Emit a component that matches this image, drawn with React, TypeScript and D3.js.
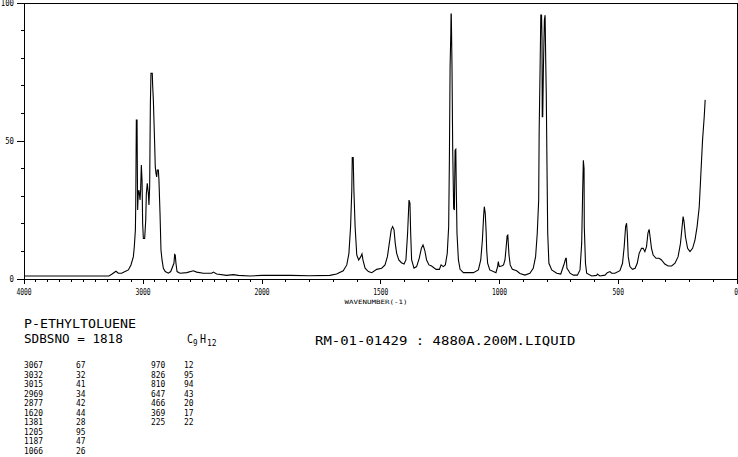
import React from "react";
import * as d3 from "d3";

// ---- spectrum data: [wavenumber (cm-1), relative intensity] ----
const regionCH: [number, number][] = [
  [4000, 1.1], [3286, 1.1], [3263, 1.7], [3227, 2.8], [3207, 2.1], [3179, 2.1], [3151, 2.7],
  [3123, 3.3], [3101, 5.1], [3081, 8.1], [3073, 11.7], [3064, 17.8], [3061, 26.8], [3056, 57.6],
  [3050, 57.6], [3048, 43], [3045, 25], [3040, 31], [3034, 32.2], [3025, 28.6], [3020, 32.2],
  [3014, 41.3], [3008, 35.9], [3003, 20.2], [2997, 14.7], [2986, 14.7], [2977, 21.4], [2972, 31],
  [2964, 34.7], [2955, 31], [2950, 26.8], [2944, 33.4], [2941, 49], [2938, 63.6], [2933, 74.5],
  [2922, 74.5], [2919, 70.3], [2913, 64.9], [2908, 57.6], [2902, 49], [2897, 40.7], [2891, 38.3],
  [2885, 37], [2880, 39.5], [2871, 39.5], [2866, 35.9], [2857, 23.8], [2849, 10.5], [2840, 6.9],
  [2829, 3.9], [2813, 2.7], [2787, 2.1], [2767, 2.7], [2740, 5.7], [2734, 8.9], [2729, 8.7],
  [2723, 5.7], [2714, 2.7], [2689, 2.1], [2633, 2.3], [2577, 3.0], [2549, 2.5], [2493, 2.1],
  [2423, 2.1], [2409, 2.5], [2381, 1.8], [2297, 1.3], [2241, 1.6], [2199, 1.3], [2101, 1.1],
];

const regionMid: [number, number][] = [
  [2000, 1.3], [1880, 1.3], [1800, 1.2], [1714, 1.3], [1686, 1.8], [1658, 3.0], [1643, 5.1],
  [1634, 9.3], [1627, 19], [1622, 32], [1620, 44], [1616, 44], [1613, 32], [1608, 19], [1601, 8.7],
  [1593, 6.9], [1584, 8.1], [1579, 9.1], [1575, 6.9], [1566, 3.9], [1552, 2.7], [1538, 2.3],
  [1517, 3.5], [1496, 3.9], [1482, 5.1], [1472, 8.1], [1464, 12.9], [1456, 17.8], [1450, 19],
  [1444, 17.8], [1439, 12.9], [1433, 9.3], [1424, 6.9], [1413, 5.9], [1402, 5.4], [1394, 6.9],
  [1387, 16.6], [1381, 28.6], [1377, 27.4], [1374, 16.6], [1370, 6.9], [1360, 3.9], [1349, 4.5],
  [1338, 7.5], [1329, 11.1], [1322, 12.3], [1315, 10.5], [1307, 6.9], [1297, 5.1], [1286, 4.7],
  [1267, 3.5], [1253, 3.5], [1246, 5.1], [1237, 4.5], [1228, 5.1], [1220, 9.3], [1214, 19],
  [1211, 43], [1208, 77], [1205, 89], [1204, 96], [1203, 96], [1200, 77], [1197, 46.7],
  [1193, 25.6], [1190, 25], [1187, 46.7], [1184, 47], [1182, 33.4], [1179, 16.6], [1173, 6.9],
  [1166, 3.5], [1152, 2.3], [1110, 2.3], [1089, 3.3], [1079, 6.9], [1072, 14.1], [1067, 22.6],
  [1064, 26.2], [1060, 23.8], [1056, 16.6], [1054, 10.5], [1050, 5.7], [1041, 3.3], [1026, 2.7],
  [1015, 2.3], [1008, 4.5], [1005, 6.3], [1001, 4.5],
];

const regionLow: [number, number][] = [
  [991, 4.7], [983, 5.1], [977, 6.9], [973, 10.5], [968, 15.6], [965, 15.9], [963, 12.9],
  [960, 8.7], [955, 5.1], [946, 3.5], [928, 3.0], [914, 2.0], [893, 1.4], [872, 2.1], [858, 3.9],
  [848, 8.1], [841, 16.6], [835, 28.6], [833, 53.4], [829, 77], [826, 95.6], [823, 95.6],
  [821, 87], [820, 58.8], [818, 58.8], [815, 77], [811, 93.8], [808, 95.6], [805, 77],
  [803, 66.7], [800, 40.7], [797, 16.6], [792, 5.7], [780, 3.3], [759, 2.1], [742, 1.8],
  [734, 3.9], [727, 5.7], [721, 7.5], [719, 7.5], [716, 3.9], [709, 3.0], [703, 2.1], [689, 1.4],
  [672, 1.4], [661, 3.3], [654, 12.9], [650, 31], [647, 43], [644, 40], [643, 19], [638, 5.7],
  [633, 2.1], [612, 1.1], [591, 1.3], [588, 1.8], [577, 1.1], [556, 1.4], [546, 2.3], [535, 2.7],
  [528, 2.1], [514, 2.1], [493, 3.0], [482, 5.7], [475, 11.7], [469, 19], [465, 20.2],
  [462, 16.6], [458, 8.1], [451, 4.5], [440, 3.5], [429, 3.9], [420, 5.7], [412, 9.3],
  [402, 11.1], [395, 11.1], [388, 9.9], [381, 11.7], [375, 16.6], [370, 18], [366, 15.3],
  [360, 11.1], [353, 8.7], [341, 7.5], [328, 7.5], [318, 6.9], [304, 5.4], [290, 4.7],
  [275, 4.7], [261, 5.7], [248, 8.1], [238, 12.9], [231, 19], [227, 22.6], [223, 20.8],
  [217, 15.3], [208, 11.1], [198, 9.9], [187, 11.1], [177, 14.1], [168, 19], [159, 26.2],
  [152, 38.3], [145, 50.4], [138, 58.8], [134, 64.9],
];

// ---- axis ticks ----
const xLabelTicks = [4000, 3000, 2000, 1500, 1000, 500, 0];
const yLabelTicks = [0, 50, 100];
const yMinorTicks = [10, 20, 30, 40, 60, 70, 80, 90];

// ---- peak table & labels ----
const compoundName = "P-ETHYLTOLUENE";
const sdbsLine = "SDBSNO = 1818";
const measurementLine = "RM-01-01429 : 4880A.200M.LIQUID";
const peakWavenumbers1 = ["3067", "3032", "3015", "2969", "2877", "1620", "1381", "1205", "1187", "1066"];
const peakIntensities1 = ["67", "32", "41", "34", "42", "44", "28", "95", "47", "26"];
const peakWavenumbers2 = ["970", "826", "810", "647", "466", "369", "225"];
const peakIntensities2 = ["12", "95", "94", "43", "20", "17", "22"];

const FONT = "'DejaVu Sans Mono', 'Liberation Mono', monospace";

export default function App() {
  const x = d3.scaleLinear().domain([4000, 2000, 0]).range([24, 262, 737]);
  const y = d3.scaleLinear().domain([0, 100]).range([279, 3]);
  const data = [...regionCH, ...regionMid, ...regionLow];
  const line = d3
    .line<[number, number]>()
    .x((d) => x(d[0]))
    .y((d) => y(d[1]));

  const minorX: number[] = [];
  for (let v = 4000; v >= 0; v -= 100) minorX.push(v);

  const x0 = x(4000);
  const x1 = x(0);
  const yBase = y(0);
  const yTop = y(100);
  const rowY = (i: number) => 368 + i * 9.55;

  const T = (
    px: number,
    py: number,
    s: string,
    size: number,
    cw: number,
    anchor: "start" | "middle" | "end" = "start"
  ) => (
    <text
      x={px}
      y={py}
      fontSize={size}
      fontFamily={FONT}
      textAnchor={anchor}
      textLength={s.length * cw}
      lengthAdjust="spacingAndGlyphs"
      fill="#000"
    >
      {s}
    </text>
  );

  return (
    <svg
      width={738}
      height={457}
      style={{ position: "fixed", left: 0, top: 0, background: "#fff" }}
    >
      <rect x={0} y={0} width={738} height={457} fill="#fff" />
      <g stroke="#000" strokeWidth={1} shapeRendering="crispEdges" fill="none">
        <line x1={x0} y1={yTop} x2={x1} y2={yTop} />
        <line x1={x1} y1={yTop} x2={x1} y2={yBase} />
        <line x1={x0} y1={yTop} x2={x0} y2={yBase} />
        <line x1={x0} y1={yBase} x2={x1} y2={yBase} />
        {minorX.map((v) => (
          <line
            key={"xt" + v}
            x1={x(v)}
            x2={x(v)}
            y1={yBase}
            y2={yBase + (xLabelTicks.includes(v) ? 5 : 3)}
          />
        ))}
        {yLabelTicks.map((v) => (
          <line key={"yt" + v} x1={x0 - 7} x2={x0} y1={y(v)} y2={y(v)} />
        ))}
        {yMinorTicks.map((v) => (
          <line key={"ym" + v} x1={x0 - 3} x2={x0} y1={y(v)} y2={y(v)} />
        ))}
      </g>
      <path d={line(data) || ""} fill="none" stroke="#000" strokeWidth={1.1} />

      {xLabelTicks.map((v) => (
        <g key={"xl" + v}>
          {v === 0
            ? T(738, 295, String(v), 8, 3.8, "end")
            : T(x(v), 295, String(v), 8, 3.8, "middle")}
        </g>
      ))}
      {yLabelTicks.map((v) => (
        <g key={"yl" + v}>{T(14, y(v) + 3, String(v), 8, 4.4, "end")}</g>
      ))}
      {T(376, 303.5, "WAVENUMBER(-1)", 6, 4.5, "middle")}

      {T(24, 328, compoundName, 12, 8)}
      {T(24, 343, sdbsLine, 12, 7.6)}
      <g>
        {T(187, 343, "C", 12, 6)}
        {T(193, 346, "9", 8, 4.5)}
        {T(200, 343, "H", 12, 6)}
        {T(207, 346, "12", 8, 4.8)}
      </g>
      {T(315, 345, measurementLine, 12, 8.4)}

      {peakWavenumbers1.map((s, i) => (
        <g key={"a" + i}>{T(24, rowY(i), s, 8, 4.75)}</g>
      ))}
      {peakIntensities1.map((s, i) => (
        <g key={"b" + i}>{T(76, rowY(i), s, 8, 4.75)}</g>
      ))}
      {peakWavenumbers2.map((s, i) => (
        <g key={"c" + i}>{T(151, rowY(i), s, 8, 4.75)}</g>
      ))}
      {peakIntensities2.map((s, i) => (
        <g key={"d" + i}>{T(184, rowY(i), s, 8, 4.75)}</g>
      ))}
    </svg>
  );
}
